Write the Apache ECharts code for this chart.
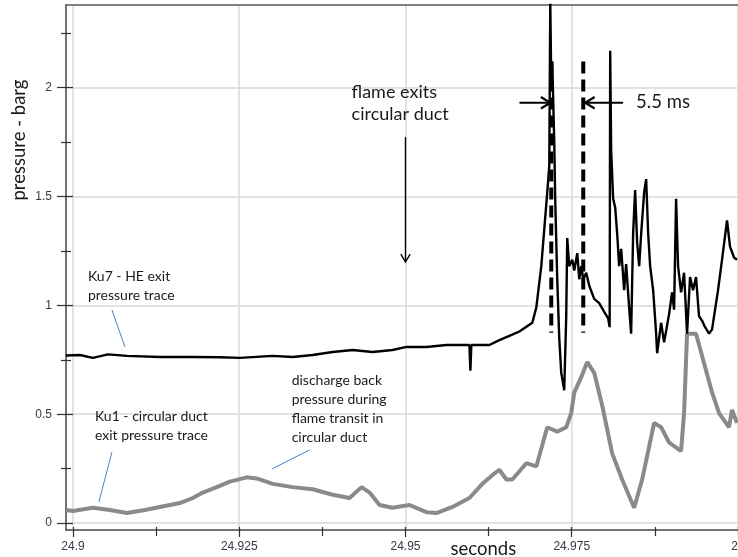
<!DOCTYPE html>
<html><head><meta charset="utf-8">
<script src="https://cdn.jsdelivr.net/npm/echarts@6/dist/echarts.min.js"></script>
<style>html,body{margin:0;padding:0;background:#fff}#c{width:738px;height:557px}</style>
</head><body><div id="c"></div>
<script>
// ---------- data (seconds, barg) ----------
const ku7Time = [24.89895,24.90105,24.90300,24.90526,24.90811,24.91306,24.91802,24.92207,24.92508,24.93003,24.93303,24.93604,24.93904,24.94204,24.94505,24.94805,24.95015,24.95315,24.95616,24.95961,24.95976,24.95990,24.96261,24.96411,24.96562,24.96712,24.96907,24.96967,24.97042,24.97087,24.97132,24.97162,24.97177,24.97192,24.97207,24.97237,24.97252,24.97282,24.97312,24.97342,24.97387,24.97417,24.97432,24.97462,24.97508,24.97538,24.97583,24.97613,24.97643,24.97673,24.97718,24.97763,24.97838,24.97913,24.97988,24.98048,24.98070,24.98078,24.98093,24.98123,24.98153,24.98183,24.98213,24.98243,24.98288,24.98318,24.98363,24.98393,24.98423,24.98453,24.98483,24.98514,24.98544,24.98589,24.98619,24.98649,24.98679,24.98724,24.98769,24.98784,24.98844,24.98889,24.98964,24.99009,24.99039,24.99069,24.99099,24.99144,24.99189,24.99234,24.99279,24.99324,24.99369,24.99414,24.99459,24.99505,24.99565,24.99610,24.99655,24.99700,24.99760,24.99835,24.99880,24.99940,24.99985];
const ku7Pressure = [0.77,0.772,0.759,0.775,0.768,0.763,0.763,0.762,0.759,0.768,0.763,0.772,0.786,0.795,0.786,0.795,0.809,0.809,0.818,0.818,0.70,0.818,0.818,0.84,0.86,0.88,0.92,0.99,1.18,1.35,1.52,1.64,2.40,2.02,2.12,1.75,1.48,1.12,0.85,0.69,0.61,0.95,1.31,1.18,1.21,1.16,1.24,1.12,1.18,1.12,1.15,1.09,1.03,1.01,0.97,0.94,0.90,2.17,1.71,1.49,1.45,1.33,1.18,1.26,1.07,1.19,0.99,0.87,1.33,1.53,1.29,1.18,1.33,1.52,1.58,1.33,1.18,1.07,0.87,0.78,0.92,0.83,0.96,1.06,0.98,1.49,1.18,1.06,1.15,0.87,1.13,1.07,1.13,0.95,0.93,0.90,0.87,0.89,0.98,1.07,1.21,1.39,1.27,1.22,1.21];
const ku1Time = [24.89895,24.90000,24.90300,24.90556,24.90811,24.91081,24.91306,24.91607,24.91802,24.91952,24.92162,24.92357,24.92613,24.92763,24.93003,24.93303,24.93604,24.93904,24.94159,24.94340,24.94460,24.94610,24.94805,24.95060,24.95315,24.95465,24.95706,24.95961,24.96156,24.96306,24.96411,24.96517,24.96607,24.96817,24.96967,24.97132,24.97282,24.97417,24.97492,24.97538,24.97643,24.97733,24.97838,24.97958,24.98108,24.98258,24.98438,24.98559,24.98739,24.98844,24.98964,24.99144,24.99189,24.99234,24.99369,24.99489,24.99610,24.99715,24.99865,24.99910,24.99985];
const ku1Pressure = [0.06,0.055,0.07,0.06,0.046,0.06,0.074,0.092,0.115,0.14,0.165,0.19,0.21,0.205,0.18,0.165,0.155,0.13,0.115,0.165,0.14,0.083,0.07,0.083,0.05,0.046,0.074,0.115,0.18,0.22,0.245,0.2,0.2,0.275,0.26,0.44,0.42,0.44,0.505,0.6,0.67,0.74,0.69,0.54,0.32,0.2,0.07,0.2,0.46,0.44,0.37,0.33,0.505,0.87,0.87,0.735,0.6,0.505,0.44,0.52,0.46];
const xMajorTicks = [24.9, 24.925, 24.95, 24.975, 25.0];
const xMinorTicks = [24.9125, 24.9375, 24.9625, 24.9875];
const xTickLabels = ['24.9', '24.925', '24.95', '24.975', '25'];
const yMajorTicks = [0, 0.5, 1, 1.5, 2];
const yMinorTicks = [0.25, 0.75, 1.25, 1.75, 2.25];
const yTickLabels = ['0', '0.5', '1', '1.5', '2'];
const seriesNames = ['Ku1', 'Ku7'];

// ---------- layout ----------
const X_MIN = 24.89895, X_MAX = 25.0, Y_MIN = -0.032, Y_MAX = 2.38;
const AXIS_COLOR = '#444';
const LABEL_FONT = '"Liberation Sans", Arial, sans-serif';
const NOTE_FONT = 'Lato, "Open Sans", sans-serif';

function nearestLabel(v, ticks, labels) {
  let best = 0;
  for (let i = 1; i < ticks.length; i++) if (Math.abs(ticks[i] - v) < Math.abs(ticks[best] - v)) best = i;
  return labels[best];
}
function zip(a, b) { return a.map((t, i) => [t, b[i]]); }

const chart = echarts.init(document.getElementById('c'), null, { renderer: 'canvas' });
const baseX = { type: 'value', min: X_MIN, max: X_MAX, position: 'bottom', gridIndex: 0 };
const baseY = { type: 'value', min: Y_MIN, max: Y_MAX, position: 'left', gridIndex: 0 };
const noLine = { show: false };

chart.setOption({
  animation: false,
  backgroundColor: '#fff',
  grid: { left: 66, right: 0, top: 5, bottom: 27, containLabel: false, outerBoundsMode: 'none' },
  xAxis: [
    Object.assign({}, baseX, {
      axisLine: { show: true, onZero: false, lineStyle: { color: AXIS_COLOR, width: 1.5 } },
      axisTick: { show: true, customValues: xMajorTicks, length: 7, lineStyle: { color: '#333', width: 1.2 } },
      axisLabel: { show: true, customValues: xMajorTicks, margin: 11, color: '#333a45', fontSize: 12, fontFamily: LABEL_FONT,
        hideOverlap: false, formatter: v => nearestLabel(v, xMajorTicks, xTickLabels) },
      splitLine: { show: true, lineStyle: { color: '#d9d9d9', width: 1.5 } }
    }),
    Object.assign({}, baseX, {
      axisLine: { show: false, onZero: false },
      axisTick: { show: true, customValues: xMinorTicks, length: 6, lineStyle: { color: '#333', width: 1.2 } },
      axisLabel: { show: false }, splitLine: noLine
    }),
    Object.assign({}, baseX, {
      axisLine: { show: false, onZero: false },
      axisTick: { show: true, inside: true, customValues: xMajorTicks.concat(xMinorTicks), length: 3, lineStyle: { color: '#333', width: 1.2 } },
      axisLabel: { show: false }, splitLine: noLine
    }),
    Object.assign({}, baseX, {
      position: 'top',
      axisLine: { show: true, onZero: false, lineStyle: { color: '#555', width: 1.5 } },
      axisTick: { show: false }, axisLabel: { show: false }, splitLine: noLine
    })
  ],
  yAxis: [
    Object.assign({}, baseY, {
      axisLine: { show: true, onZero: false, lineStyle: { color: AXIS_COLOR, width: 1.5 } },
      axisTick: { show: true, customValues: yMajorTicks, length: 9, lineStyle: { color: '#333', width: 1.2 } },
      axisLabel: { show: true, customValues: yMajorTicks, margin: 14, color: '#333a45', fontSize: 12, fontFamily: LABEL_FONT,
        formatter: v => nearestLabel(v, yMajorTicks, yTickLabels) },
      splitLine: { show: true, lineStyle: { color: '#d9d9d9', width: 1.5 } }
    }),
    Object.assign({}, baseY, {
      axisLine: { show: false, onZero: false },
      axisTick: { show: true, customValues: yMinorTicks, length: 5, lineStyle: { color: '#333', width: 1.2 } },
      axisLabel: { show: false }, splitLine: noLine
    }),
    Object.assign({}, baseY, {
      axisLine: { show: false, onZero: false },
      axisTick: { show: true, inside: true, customValues: yMajorTicks, length: 7, lineStyle: { color: '#333', width: 1.2 } },
      axisLabel: { show: false }, splitLine: noLine
    }),
    Object.assign({}, baseY, {
      axisLine: { show: false, onZero: false },
      axisTick: { show: true, inside: true, customValues: yMinorTicks, length: 5, lineStyle: { color: '#333', width: 1.2 } },
      axisLabel: { show: false }, splitLine: noLine
    })
  ],
  series: [
    { name: seriesNames[0], type: 'line', xAxisIndex: 0, yAxisIndex: 0, showSymbol: false, symbol: 'none',
      data: zip(ku1Time, ku1Pressure), lineStyle: { color: '#8a8a8a', width: 4 }, z: 2 },
    { name: seriesNames[1], type: 'line', xAxisIndex: 0, yAxisIndex: 0, showSymbol: false, symbol: 'none',
      data: zip(ku7Time, ku7Pressure), lineStyle: { color: '#000', width: 2.4 }, z: 3 }
  ]
});

// ---------- annotations, positioned through the chart's own scales ----------
const P = (t, v) => chart.convertToPixel({ xAxisIndex: 0, yAxisIndex: 0 }, [t, v]);
const g = [];
function line(a, b, style) { g.push({ type: 'line', shape: { x1: a[0], y1: a[1], x2: b[0], y2: b[1] }, style: style, z: 20 }); }
function arrow(from, to, width, head) {
  const a = P(from[0], from[1]), b = P(to[0], to[1]);
  const st = { stroke: '#000', lineWidth: width, lineCap: 'round' };
  line(a, b, st);
  const ang = Math.atan2(b[1] - a[1], b[0] - a[0]);
  const s = 0.55;
  g.push({ type: 'polyline', shape: { points: [
    [b[0] - head * Math.cos(ang - s), b[1] - head * Math.sin(ang - s)], b,
    [b[0] - head * Math.cos(ang + s), b[1] - head * Math.sin(ang + s)] ] },
    style: { stroke: '#000', lineWidth: width, fill: null, lineJoin: 'miter' }, z: 20 });
}
function text(t, v, str, size, lh, vAlign) {
  const p = P(t, v);
  g.push({ type: 'text', x: p[0], y: p[1], z: 21,
    style: { text: str, fontSize: size, lineHeight: lh, fontFamily: NOTE_FONT, fill: '#1a1a1a', align: 'left', verticalAlign: vAlign || 'top' } });
}
// dashed markers
[24.97192, 24.97673].forEach(t => line(P(t, 2.12), P(t, 0.874), { stroke: '#000', lineWidth: 4, lineDash: [12, 6] }));
// 5.5 ms arrows
arrow([24.96727, 1.931], [24.97177, 1.931], 2.2, 11);
arrow([24.98258, 1.931], [24.97703, 1.931], 2.2, 11);
// flame exits arrow
arrow([24.95, 1.77], [24.95, 1.20], 1.4, 9);
// leader lines
const blue = { stroke: '#4f81bd', lineWidth: 1 };
line(P(24.90586, 0.979), P(24.90781, 0.809), blue);
line(P(24.90586, 0.326), P(24.90390, 0.0966), blue);
line(P(24.93559, 0.336), P(24.92988, 0.248), blue);
// texts
text(24.94189, 2.03, 'flame exits\ncircular duct', 18, 22);
text(24.98468, 1.936, '5.5 ms', 18.5, 22, 'middle');
text(24.90225, 1.175, 'Ku7 - HE exit\npressure trace', 14, 19);
text(24.90330, 0.531, 'Ku1 - circular duct\nexit pressure trace', 14, 19);
text(24.93288, 0.697, 'discharge back\npressure during\nflame transit in\ncircular duct', 14, 19);
// axis titles
const xt = P(24.96171, 0);
g.push({ type: 'text', x: xt[0], y: 549, z: 21, style: { text: 'seconds', fontSize: 18.5, fontFamily: NOTE_FONT, fill: '#1a1a1a', align: 'center', verticalAlign: 'middle' } });
g.push({ type: 'text', x: 19, y: 140, rotation: Math.PI / 2, z: 21, style: { text: 'pressure - barg', fontSize: 18.5, fontFamily: NOTE_FONT, fill: '#1a1a1a', align: 'center', verticalAlign: 'middle' } });
chart.setOption({ graphic: g });
</script>
</body></html>
